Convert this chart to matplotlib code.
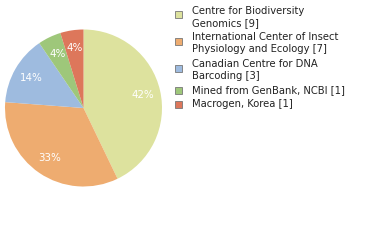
import matplotlib
matplotlib.use("Agg")
import matplotlib.pyplot as plt
from matplotlib.patches import Rectangle

labels = ["Centre for Biodiversity\nGenomics [9]",
          "International Center of Insect\nPhysiology and Ecology [7]",
          "Canadian Centre for DNA\nBarcoding [3]",
          "Mined from GenBank, NCBI [1]",
          "Macrogen, Korea [1]"]
values = [9, 7, 3, 1, 1]
colors = ["#dde29e", "#eeac70", "#9ebbdf", "#9ec77a", "#dd775b"]

W, H = 380, 240
fig = plt.figure(figsize=(W / 100, H / 100), dpi=100)
cx, cy, r = 83.5, 108, 78.5
ax = fig.add_axes([(cx - r) / W, (H - cy - r) / H, 2 * r / W, 2 * r / H])
ax.pie(values, colors=colors, startangle=90, counterclock=False,
       autopct=lambda p: f"{int(p)}%", pctdistance=0.77,
       wedgeprops=dict(linewidth=0),
       textprops=dict(color="white", fontsize=7.4))
ax.set_xlim(-1, 1)
ax.set_ylim(-1, 1)
ax.set_aspect("equal")
ax.axis("off")

square_y = [14.5, 41, 68, 90.5, 104]
text_y = [11, 37, 64, 90.5, 104]
line_gap = 12.3
for lab, col, sy, ty in zip(labels, colors, square_y, text_y):
    fig.add_artist(Rectangle((175 / W, (H - sy - 3.5) / H), 7 / W, 7 / H,
                             facecolor=col, edgecolor="#777777", linewidth=0.6,
                             transform=fig.transFigure))
    for i, line in enumerate(lab.split("\n")):
        fig.text(192.5 / W, (H - ty - i * line_gap) / H, line, fontsize=7.2,
                 color="#222222", va="center", ha="left")

fig.savefig("out.png", dpi=100)
